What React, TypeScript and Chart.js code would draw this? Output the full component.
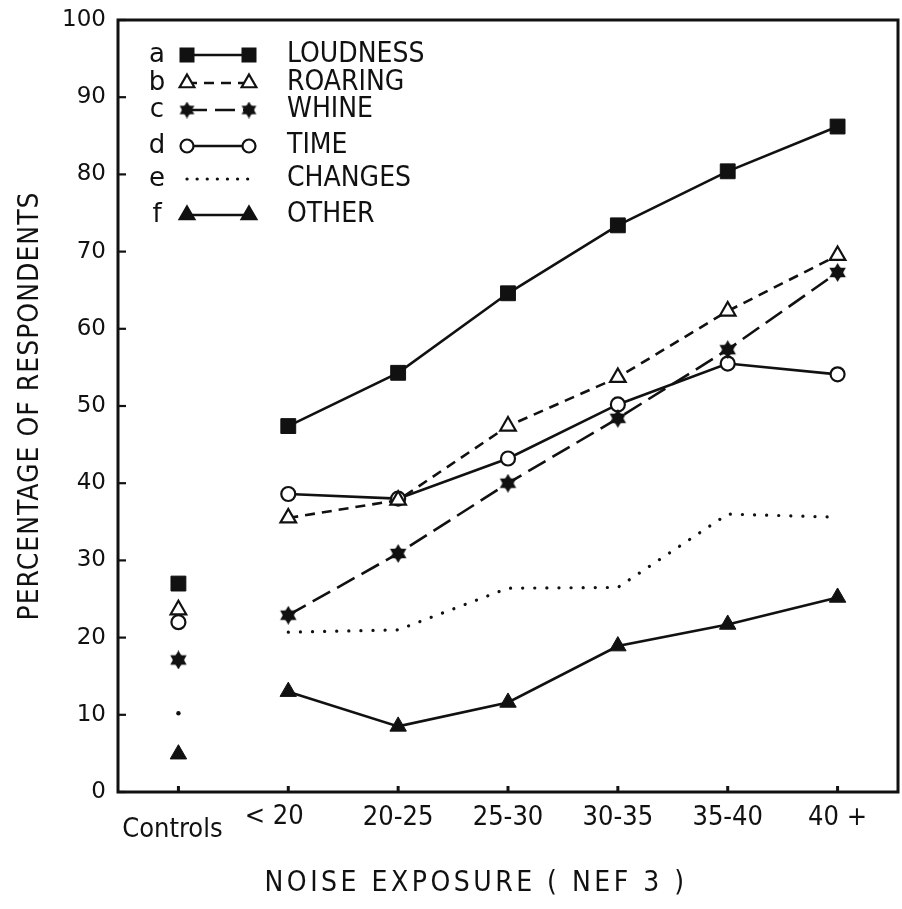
import React, { useEffect, useRef } from 'react';
import { Chart, registerables } from 'chart.js';

Chart.register(...registerables);

// ---------------- data ----------------
const categories = ['Controls', '< 20', '20-25', '25-30', '30-35', '35-40', '40 +'];
const seriesLetters = ['a', 'b', 'c', 'd', 'e', 'f'];
const seriesNames = ['LOUDNESS', 'ROARING', 'WHINE', 'TIME', 'CHANGES', 'OTHER'];
const loudness = [27.0, 47.4, 54.3, 64.6, 73.4, 80.4, 86.2];
const roaring = [23.6, 35.5, 37.8, 47.4, 53.7, 62.3, 69.5];
const whine = [17.1, 22.9, 30.9, 40.0, 48.4, 57.3, 67.3];
const time = [22.0, 38.6, 38.0, 43.2, 50.2, 55.5, 54.1];
const changes = [10.2, 20.7, 21.0, 26.4, 26.5, 36.0, 35.6];
const other = [4.9, 13.0, 8.5, 11.6, 18.9, 21.7, 25.2];
const yTickValues = [0, 10, 20, 30, 40, 50, 60, 70, 80, 90, 100];
const xTitle = 'NOISE EXPOSURE ( NEF 3 )';
const yTitle = 'PERCENTAGE OF RESPONDENTS';

const INK = '#111';
const COND = "'DejaVu Sans Condensed', 'Liberation Sans Narrow', 'DejaVu Sans'";
const ROUND = "'DejaVu Sans', 'Noto Sans', sans-serif";

function makeStar(size: number): HTMLCanvasElement {
  const c = document.createElement('canvas');
  c.width = size;
  c.height = size;
  const g = c.getContext('2d')!;
  const r = size / 2;
  g.fillStyle = INK;
  const tri = (start: number) => {
    g.beginPath();
    for (let k = 0; k < 3; k++) {
      const a = ((start + k * 120) * Math.PI) / 180;
      const px = r + Math.cos(a) * r;
      const py = r + Math.sin(a) * r;
      if (k === 0) g.moveTo(px, py);
      else g.lineTo(px, py);
    }
    g.closePath();
    g.fill();
  };
  tri(-90);
  tri(90);
  g.beginPath();
  g.arc(r, r, r * 0.6, 0, Math.PI * 2);
  g.fill();
  return c;
}

type Marker = { style: any; radius: number; fill: string; border: number };

export default function App() {
  const ref = useRef<HTMLCanvasElement | null>(null);

  useEffect(() => {
    if (!ref.current) return;
    const star = makeStar(19);
    const legendStar = makeStar(17);
    const values = [loudness, roaring, whine, time, changes, other];
    const dashes: number[][] = [[], [10, 7], [20, 8], [], [0.1, 12], []];
    const markers: Marker[] = [
      { style: 'rect', radius: 10.5, fill: INK, border: 1 },
      { style: 'triangle', radius: 9, fill: '#fff', border: 2.2 },
      { style: star, radius: 9, fill: INK, border: 0 },
      { style: 'circle', radius: 7, fill: '#fff', border: 2.2 },
      { style: 'circle', radius: 2, fill: INK, border: 0 },
      { style: 'triangle', radius: 9.5, fill: INK, border: 1 },
    ];

    const datasets = values.map((vals, i) => {
      const m = markers[i];
      const isChanges = i === 4;
      return {
        label: seriesNames[i],
        data: vals.map((v, idx) => ({ x: idx, y: v })),
        borderColor: INK,
        borderWidth: isChanges ? 3.2 : 2.6,
        borderDash: dashes[i],
        borderCapStyle: isChanges ? 'round' : 'butt',
        backgroundColor: m.fill,
        pointStyle: m.style,
        pointRadius: isChanges ? (c: any) => (c.dataIndex === 0 ? 2.2 : 0) : m.radius,
        pointHoverRadius: m.radius,
        pointBackgroundColor: m.fill,
        pointBorderColor: INK,
        pointBorderWidth: m.border,
        tension: 0,
        fill: false,
        segment: {
          borderColor: (c: any) => (c.p0DataIndex === 0 ? 'rgba(0,0,0,0)' : undefined),
        },
      };
    });

    const decor = {
      id: 'decor',
      afterDraw(chart: any) {
        const { ctx, chartArea } = chart;
        const { left, right, top, bottom } = chartArea;
        const xs = chart.scales.x;
        const ys = chart.scales.y;
        ctx.save();
        ctx.strokeStyle = INK;
        ctx.fillStyle = INK;
        // frame
        ctx.lineWidth = 3;
        ctx.setLineDash([]);
        ctx.strokeRect(left, top, right - left, bottom - top);
        // y ticks (inward)
        ctx.lineWidth = 2.2;
        yTickValues.forEach((v) => {
          const y = ys.getPixelForValue(v);
          ctx.beginPath();
          ctx.moveTo(left, y);
          ctx.lineTo(left + 8, y);
          ctx.stroke();
        });
        // x ticks (small inward bumps) and category labels
        ctx.font = `27px ${COND}`;
        ctx.textAlign = 'center';
        ctx.textBaseline = 'middle';
        categories.forEach((label, i) => {
          const x = xs.getPixelForValue(i);
          ctx.lineWidth = 3;
          ctx.beginPath();
          ctx.moveTo(x, bottom);
          ctx.lineTo(x, bottom - 6);
          ctx.stroke();
          if (i === 0) {
            // "Controls" sits lower and slightly left
            ctx.fillText(label, x - 6, bottom + 38);
          } else if (i === 1) {
            ctx.fillText(label, x - 14, bottom + 25);
          } else {
            ctx.fillText(label, x, bottom + 26);
          }
        });
        // x axis title
        ctx.font = `28px ${COND}`;
        (ctx as any).letterSpacing = '3.5px';
        ctx.fillText(xTitle, 476, 884);
        // y axis title
        ctx.save();
        ctx.translate(31, (top + bottom) / 2);
        ctx.rotate(-Math.PI / 2);
        (ctx as any).letterSpacing = '1px';
        ctx.fillText(yTitle, 0, 0);
        ctx.restore();
        (ctx as any).letterSpacing = '0px';

        // legend
        const rows = [55, 83, 110, 146, 179, 215];
        const lx = 157;
        const x1 = 187;
        const x2 = 249;
        const tx = 287;
        rows.forEach((y, i) => {
          ctx.font = `26px ${ROUND}`;
          ctx.textAlign = 'center';
          ctx.fillStyle = INK;
          ctx.fillText(seriesLetters[i], lx, y);
          // line
          ctx.lineWidth = i === 4 ? 3.2 : 2.6;
          ctx.lineCap = i === 4 ? 'round' : 'butt';
          ctx.setLineDash(i === 4 ? [0.1, 10] : dashes[i]);
          ctx.beginPath();
          ctx.moveTo(x1, y);
          ctx.lineTo(x2, y);
          ctx.stroke();
          ctx.setLineDash([]);
          ctx.lineCap = 'butt';
          // markers
          if (i !== 4) {
            [x1, x2].forEach((mx) => {
              ctx.lineWidth = 2.2;
              if (i === 0) {
                ctx.fillRect(mx - 7.5, y - 7.5, 15, 15);
              } else if (i === 1 || i === 5) {
                const r = 8.5;
                ctx.beginPath();
                ctx.moveTo(mx, y - r);
                ctx.lineTo(mx + r * 0.866, y + r * 0.5);
                ctx.lineTo(mx - r * 0.866, y + r * 0.5);
                ctx.closePath();
                ctx.fillStyle = i === 1 ? '#fff' : INK;
                ctx.fill();
                ctx.fillStyle = INK;
                ctx.stroke();
              } else if (i === 2) {
                ctx.drawImage(legendStar, mx - 8.5, y - 8.5);
              } else if (i === 3) {
                ctx.beginPath();
                ctx.arc(mx, y, 6.5, 0, Math.PI * 2);
                ctx.fillStyle = '#fff';
                ctx.fill();
                ctx.fillStyle = INK;
                ctx.stroke();
              }
            });
          }
          ctx.font = `28px ${COND}`;
          ctx.textAlign = 'left';
          ctx.fillText(seriesNames[i], tx, y);
        });
        ctx.restore();
      },
    };

    const chart = new Chart(ref.current, {
      type: 'line',
      data: { datasets: datasets as any },
      options: {
        responsive: false,
        animation: false,
        devicePixelRatio: 1,
        layout: { autoPadding: false, padding: { top: 20, right: 4, left: 0, bottom: 0 } },
        plugins: {
          legend: { display: false },
          tooltip: { enabled: false },
          title: { display: false },
        },
        scales: {
          x: {
            type: 'linear',
            min: -0.55,
            max: 6.55,
            afterBuildTicks: (s: any) => {
              s.ticks = categories.map((_, i) => ({ value: i }));
            },
            afterFit: (s: any) => {
              s.height = 117;
              s.paddingLeft = 0;
              s.paddingRight = 0;
            },
            grid: { display: false, drawTicks: false },
            border: { display: false },
            ticks: { display: false },
          },
          y: {
            type: 'linear',
            min: 0,
            max: 100,
            afterFit: (s: any) => {
              s.width = 118;
              s.paddingTop = 0;
              s.paddingBottom = 0;
            },
            grid: { display: false, drawTicks: false },
            border: { display: false },
            ticks: {
              stepSize: 10,
              padding: 12,
              color: INK,
              font: { family: ROUND, size: 23 },
            },
            title: { display: false },
          },
        },
      },
      plugins: [decor],
    } as any);

    return () => chart.destroy();
  }, []);

  return (
    <div style={{ position: 'fixed', left: 0, top: 0, width: 902, height: 909, background: '#fff' }}>
      <canvas ref={ref} width={902} height={909} style={{ width: 902, height: 909, display: 'block' }} />
    </div>
  );
}
